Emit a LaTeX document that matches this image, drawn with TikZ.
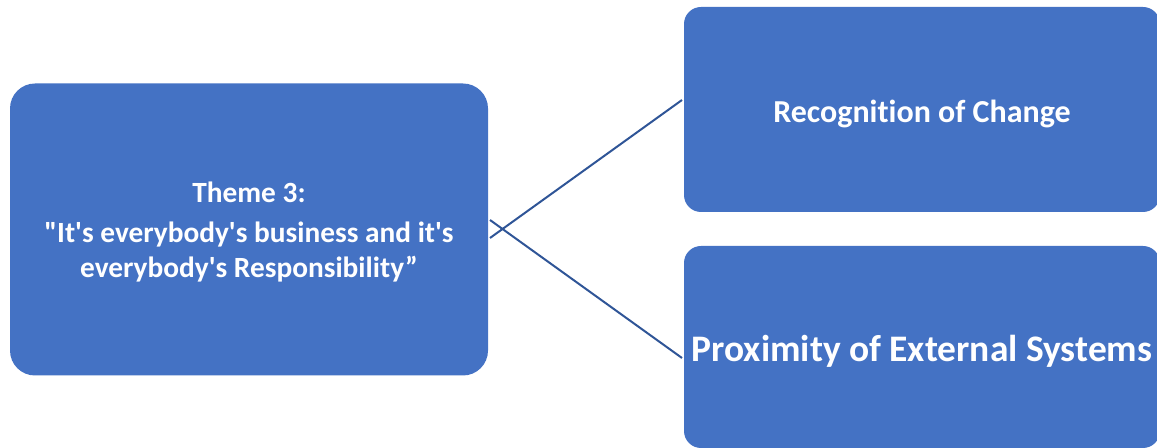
\documentclass[tikz,border=0pt]{standalone}
\usepackage{fontspec}
\setmainfont{Carlito}[Ligatures={TeXOff,NoCommon}]
\definecolor{boxblue}{HTML}{4472C4}
\definecolor{linkblue}{HTML}{2F5597}
\begin{document}
\begin{tikzpicture}[x=0.75pt,y=-0.75pt,
  box/.style={fill=boxblue,draw=none,text=white,align=center,inner sep=0pt},
  link/.style={draw=linkblue,line width=1.5pt}]
\useasboundingbox (0,0) rectangle (1157,448);
\begin{scope}
\clip (0,0) rectangle (1157,448);
\node[box,rounded corners=18.75pt,minimum width=478*0.75pt,minimum height=292*0.75pt] (L) at (249,229.5) {};
\node[box,font=\bfseries\fontsize{22pt}{26.25pt}\selectfont] at ([yshift=-2pt]L.center)
  {Theme 3:\\[3.75pt]"It's everybody's business and it's\\ everybody's Responsibility”};
\node[box,rounded corners=12.75pt,minimum width=476*0.75pt,minimum height=205*0.75pt,
  font=\bfseries\fontsize{24pt}{28pt}\selectfont,text depth=0pt] (R1) at (922,109.5)
  {\raisebox{-2.5pt}{Recognition of Change}};
\node[box,rounded corners=12.75pt,minimum width=476*0.75pt,minimum height=202*0.75pt,
  font=\bfseries\fontsize{28.1pt}{32pt}\selectfont,text depth=0pt] (R2) at (922,347)
  {\raisebox{-2pt}{Proximity of External Systems}};
\end{scope}
\coordinate (a1) at (490,238);
\coordinate (b1) at (682,100);
\coordinate (a2) at (490,220);
\coordinate (b2) at (682,358);
\draw[link] (a1) -- (b1);
\draw[link] (a2) -- (b2);
\end{tikzpicture}
\end{document}
